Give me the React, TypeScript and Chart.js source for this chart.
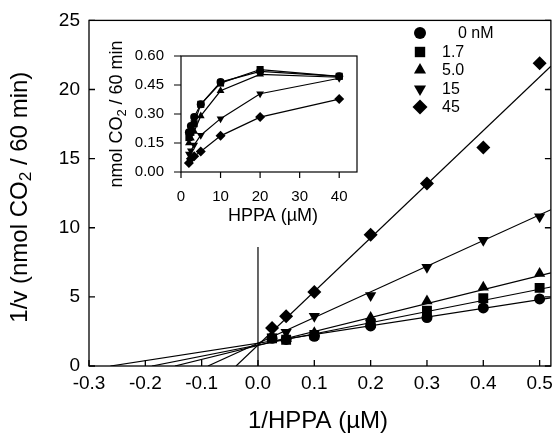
import React, { useEffect, useRef } from "react";
import { Chart, registerables } from "chart.js";
Chart.register(...registerables);

// ---------- data ----------
const seriesLabels = ["0 nM", "1.7", "5.0", "15", "45"];
const seriesStyles = ["circle", "rect", "triangle", "triangleDown", "rectRot"];

// main plot: 1/[HPPA] (µM^-1) vs 1/v
const recipHPPA = [0.025, 0.05, 0.1, 0.2, 0.3, 0.4, 0.5];
const recipV_0 = [2.0, 1.92, 2.15, 2.9, 3.5, 4.2, 4.85];
const recipV_17 = [2.0, 1.9, 2.25, 3.1, 4.0, 4.9, 5.65];
const recipV_50 = [2.05, 1.98, 2.4, 3.5, 4.7, 5.7, 6.7];
const recipV_15 = [2.1, 2.45, 3.6, 5.1, 7.15, 9.1, 10.8];
const recipV_45 = [2.75, 3.6, 5.35, 9.5, 13.2, 15.8, 21.9];

// linear fits (1/v = a + b * 1/[HPPA])
const fitIntercepts = [1.65, 1.52, 1.49, 1.65, 1.51];
const fitSlopes = [6.3, 8.07, 10.1, 18.57, 38.8];
const fitXEnd = 0.52;

// vertical reference line at x = 0
const refLineX = [0, 0];
const refLineY = [0, 8.6];

// inset: [HPPA] (µM) vs rate
const hppa = [40, 20, 10, 5, 3.33, 2.5, 2];
const rate_0 = [0.495, 0.52, 0.465, 0.35, 0.285, 0.238, 0.205];
const rate_17 = [0.495, 0.53, 0.46, 0.35, 0.25, 0.205, 0.178];
const rate_50 = [0.49, 0.505, 0.42, 0.29, 0.21, 0.175, 0.15];
const rate_15 = [0.485, 0.405, 0.276, 0.19, 0.14, 0.11, 0.093];
const rate_45 = [0.377, 0.284, 0.187, 0.106, 0.082, 0.068, 0.047];

// ticks
const mainXTicks = [-0.3, -0.2, -0.1, 0.0, 0.1, 0.2, 0.3, 0.4, 0.5];
const mainYTicks = [0, 5, 10, 15, 20, 25];
const insetXTicks = [0, 10, 20, 30, 40];
const insetYTicks = [0, 0.15, 0.3, 0.45, 0.6];

// titles (text, subscript flag)
const mainXTitle: [string, boolean][] = [["1/HPPA (µM)", false]];
const mainYTitle: [string, boolean][] = [["1/v (nmol CO", false], ["2", true], [" / 60 min)", false]];
const insetXTitle: [string, boolean][] = [["HPPA (µM)", false]];
const insetYTitle: [string, boolean][] = [["nmol CO", false], ["2", true], [" / 60 min", false]];

const FONT = "'Liberation Sans', Arial, Helvetica, sans-serif";

// ---------- helpers ----------
function drawRich(ctx: CanvasRenderingContext2D, parts: [string, boolean][], cx: number, cy: number, size: number) {
  const subSize = size * 0.72;
  const widths = parts.map(([t, sub]) => {
    ctx.font = `${sub ? subSize : size}px ${FONT}`;
    return ctx.measureText(t).width;
  });
  const total = widths.reduce((a, b) => a + b, 0);
  let x = cx - total / 2;
  ctx.textAlign = "left";
  ctx.textBaseline = "middle";
  ctx.fillStyle = "#000";
  parts.forEach(([t, sub], i) => {
    ctx.font = `${sub ? subSize : size}px ${FONT}`;
    ctx.fillText(t, x, sub ? cy + size * 0.28 : cy);
    x += widths[i];
  });
}

function drawMarker(ctx: CanvasRenderingContext2D, style: string, x: number, y: number, r: number) {
  ctx.beginPath();
  if (style === "circle") {
    ctx.arc(x, y, r, 0, Math.PI * 2);
  } else if (style === "rect") {
    const h = r * 0.8;
    ctx.rect(x - h, y - h, 2 * h, 2 * h);
  } else if (style === "triangle") {
    ctx.moveTo(x, y - r);
    ctx.lineTo(x + r * 0.866, y + r * 0.5);
    ctx.lineTo(x - r * 0.866, y + r * 0.5);
    ctx.closePath();
  } else if (style === "triangleDown") {
    ctx.moveTo(x, y + r);
    ctx.lineTo(x + r * 0.866, y - r * 0.5);
    ctx.lineTo(x - r * 0.866, y - r * 0.5);
    ctx.closePath();
  } else {
    ctx.moveTo(x, y - r);
    ctx.lineTo(x + r, y);
    ctx.lineTo(x, y + r);
    ctx.lineTo(x - r, y);
    ctx.closePath();
  }
  ctx.fillStyle = "#000";
  ctx.fill();
}

const mainPlugin = {
  id: "mainDecor",
  afterDraw(chart: any) {
    const { ctx, chartArea: a, scales } = chart;
    const xs = scales.x;
    const ys = scales.y;
    ctx.save();
    ctx.strokeStyle = "#000";
    ctx.lineWidth = 1.3;
    ctx.strokeRect(a.left, a.top, a.right - a.left, a.bottom - a.top);
    ctx.beginPath();
    const tl = 6;
    mainXTicks.forEach((v) => {
      const px = xs.getPixelForValue(v);
      ctx.moveTo(px, a.bottom);
      ctx.lineTo(px, a.bottom - tl);
    });
    mainYTicks.forEach((v) => {
      const py = ys.getPixelForValue(v);
      ctx.moveTo(a.left, py);
      ctx.lineTo(a.left + tl, py);
      ctx.moveTo(a.right, py);
      ctx.lineTo(a.right - tl, py);
    });
    ctx.stroke();
    // titles
    drawRich(ctx, mainXTitle, (a.left + a.right) / 2 - 2, 421, 24);
    ctx.save();
    ctx.translate(20, (a.top + a.bottom) / 2 + 4);
    ctx.rotate(-Math.PI / 2);
    drawRich(ctx, mainYTitle, 0, 0, 24);
    ctx.restore();
    // legend
    const legendY = [33, 52, 70, 89, 107];
    const legendR = [6, 6.5, 7, 7, 7.5];
    seriesLabels.forEach((lab, i) => {
      drawMarker(ctx, seriesStyles[i], 420, legendY[i], legendR[i]);
      ctx.font = `16px ${FONT}`;
      ctx.textAlign = "left";
      ctx.textBaseline = "middle";
      ctx.fillStyle = "#000";
      ctx.fillText(lab, i === 0 ? 458 : 442, legendY[i] + 1);
    });
    ctx.restore();
  },
};

const insetPlugin = {
  id: "insetDecor",
  afterDraw(chart: any) {
    const { ctx, chartArea: a, scales } = chart;
    const xs = scales.x;
    const ys = scales.y;
    ctx.save();
    ctx.strokeStyle = "#000";
    ctx.lineWidth = 1.2;
    ctx.strokeRect(a.left, a.top, a.right - a.left, a.bottom - a.top);
    ctx.beginPath();
    insetXTicks.forEach((v) => {
      const px = xs.getPixelForValue(v);
      ctx.moveTo(px, a.bottom);
      ctx.lineTo(px, a.bottom + 6);
    });
    insetYTicks.forEach((v) => {
      const py = ys.getPixelForValue(v);
      ctx.moveTo(a.left, py);
      ctx.lineTo(a.left - 7, py);
    });
    ctx.stroke();
    drawRich(ctx, insetXTitle, (a.left + a.right) / 2 + 4, 186, 18);
    ctx.save();
    ctx.translate(a.left - 64, (a.top + a.bottom) / 2);
    ctx.rotate(-Math.PI / 2);
    drawRich(ctx, insetYTitle, 0, 0, 18);
    ctx.restore();
    ctx.restore();
  },
};

const mainSeries = [recipV_0, recipV_17, recipV_50, recipV_15, recipV_45];
const insetSeries = [rate_0, rate_17, rate_50, rate_15, rate_45];
const mainRadius = [5.5, 7, 6.5, 6.5, 7];
const insetRadius = [4, 5, 4.5, 4.5, 5];

export default function App() {
  const mainRef = useRef<HTMLCanvasElement>(null);
  const insetRef = useRef<HTMLCanvasElement>(null);

  useEffect(() => {
    const pointSets = mainSeries.map((ys, i) => ({
      type: "scatter" as const,
      label: seriesLabels[i],
      data: recipHPPA.map((x, j) => ({ x, y: ys[j] })),
      pointStyle: seriesStyles[i] === "triangleDown" ? "triangle" : seriesStyles[i],
      rotation: seriesStyles[i] === "triangleDown" ? 180 : 0,
      pointRadius: mainRadius[i],
      pointBackgroundColor: "#000",
      pointBorderColor: "#000",
      pointBorderWidth: 0,
      showLine: false,
      order: 1,
    }));
    const fitSets = fitIntercepts.map((a, i) => {
      const b = fitSlopes[i];
      const x0 = -a / b;
      return {
        type: "line" as const,
        label: "fit " + seriesLabels[i],
        data: [
          { x: x0, y: 0 },
          { x: fitXEnd, y: a + b * fitXEnd },
        ],
        borderColor: "#000",
        borderWidth: 1.2,
        pointRadius: 0,
        order: 2,
      };
    });
    const refSet = {
      type: "line" as const,
      label: "ref",
      data: refLineX.map((x, j) => ({ x, y: refLineY[j] })),
      borderColor: "#000",
      borderWidth: 1.2,
      pointRadius: 0,
      order: 2,
    };

    const tickFont = { family: FONT, size: 19 };
    const main = new Chart(mainRef.current!, {
      type: "scatter",
      data: { datasets: [...pointSets, ...fitSets, refSet] as any },
      options: {
        animation: false,
        responsive: false,
        layout: { padding: { top: 20, right: 5, left: 0, bottom: 0 } },
        plugins: { legend: { display: false }, tooltip: { enabled: false } },
        scales: {
          x: {
            type: "linear",
            min: -0.3,
            max: 0.52,
            afterBuildTicks: (s: any) => {
              s.ticks = mainXTicks.map((value) => ({ value }));
            },
            afterFit: (s: any) => {
              s.height = 72;
            },
            grid: { display: false, drawTicks: false },
            border: { display: false },
            ticks: {
              padding: 6,
              color: "#000",
              font: tickFont,
              maxRotation: 0,
              autoSkip: false,
              callback: (v: any) => Number(v).toFixed(1),
            },
          },
          y: {
            type: "linear",
            min: 0,
            max: 25,
            afterBuildTicks: (s: any) => {
              s.ticks = mainYTicks.map((value) => ({ value }));
            },
            afterFit: (s: any) => {
              s.width = 89;
            },
            grid: { display: false, drawTicks: false },
            border: { display: false },
            ticks: { padding: 9, color: "#000", font: tickFont, autoSkip: false },
          },
        },
      } as any,
      plugins: [mainPlugin],
    });

    const insetSets = insetSeries.map((ys, i) => ({
      label: seriesLabels[i],
      data: hppa.map((x, j) => ({ x, y: ys[j] })),
      pointStyle: seriesStyles[i] === "triangleDown" ? "triangle" : seriesStyles[i],
      rotation: seriesStyles[i] === "triangleDown" ? 180 : 0,
      pointRadius: insetRadius[i],
      pointBackgroundColor: "#000",
      pointBorderColor: "#000",
      pointBorderWidth: 0,
      borderColor: "#000",
      borderWidth: 1.2,
      showLine: true,
      tension: 0,
    }));
    const insetFont = { family: FONT, size: 15 };
    const inset = new Chart(insetRef.current!, {
      type: "scatter",
      data: { datasets: insetSets as any },
      options: {
        animation: false,
        responsive: false,
        layout: { padding: { top: 18, right: 8, left: 0, bottom: 0 } },
        plugins: { legend: { display: false }, tooltip: { enabled: false } },
        scales: {
          x: {
            type: "linear",
            min: 0,
            max: 44.5,
            afterBuildTicks: (s: any) => {
              s.ticks = insetXTicks.map((value) => ({ value }));
            },
            afterFit: (s: any) => {
              s.height = 58;
            },
            grid: { display: false, drawTicks: false },
            border: { display: false },
            ticks: {
              padding: 16,
              color: "#000",
              font: insetFont,
              maxRotation: 0,
              autoSkip: false,
            },
          },
          y: {
            type: "linear",
            min: 0,
            max: 0.6,
            afterBuildTicks: (s: any) => {
              s.ticks = insetYTicks.map((value) => ({ value }));
            },
            afterFit: (s: any) => {
              s.width = 86;
            },
            grid: { display: false, drawTicks: false },
            border: { display: false },
            ticks: {
              padding: 17,
              color: "#000",
              font: insetFont,
              autoSkip: false,
              callback: (v: any) => Number(v).toFixed(2),
            },
          },
        },
      } as any,
      plugins: [insetPlugin],
    });

    return () => {
      main.destroy();
      inset.destroy();
    };
  }, []);

  return (
    <div style={{ position: "absolute", left: 0, top: 0, width: 559, height: 438, background: "#fff" }}>
      <canvas ref={mainRef} width={559} height={438} style={{ position: "absolute", left: 0, top: 0 }} />
      <canvas ref={insetRef} width={270} height={200} style={{ position: "absolute", left: 95, top: 30 }} />
    </div>
  );
}
